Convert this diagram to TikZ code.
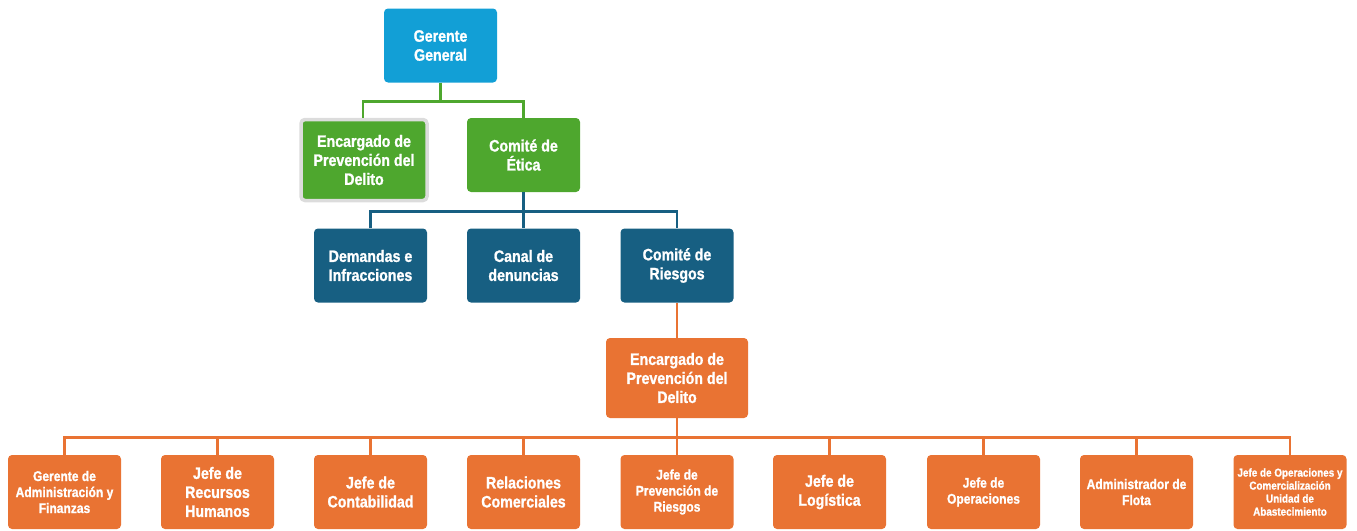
\documentclass[tikz,border=0pt]{standalone}
\usepackage{fontspec}
\setmainfont[FakeStretch=0.86,FakeBold=1.2]{Liberation Sans}
\definecolor{cyanb}{RGB}{18,159,214}
\definecolor{grn}{RGB}{78,167,46}
\definecolor{dblue}{RGB}{23,95,130}
\definecolor{orng}{RGB}{233,115,51}
\definecolor{ggray}{RGB}{220,220,220}
\begin{document}
\begin{tikzpicture}[x=1pt,y=-1pt,
  box/.style={rounded corners=4pt, text=white, align=center, inner sep=0pt,
    font=\fontsize{16.5}{19}\selectfont\bfseries, minimum height=74pt, minimum width=113pt},
  cbox/.style={box, fill=cyanb},
  gbox/.style={box, fill=grn},
  bbox/.style={box, fill=dblue},
  obox/.style={box, fill=orng},
  sm/.style={font=\fontsize{14}{16}\selectfont\bfseries},
  xs/.style={font=\fontsize{11.5}{13}\selectfont\bfseries},
  gline/.style={draw=grn, line width=2.6pt},
  bline/.style={draw=dblue, line width=2.6pt},
  oline/.style={draw=orng, line width=2.6pt}]
\useasboundingbox (0,0) rectangle (1357,530);
% top
\node[cbox] (gg) at (440.5,45.5) {Gerente\\General};
\node[gbox, minimum width=126pt, minimum height=81pt, draw=ggray, line width=3.5pt] (epd1) at (364,160) {Encargado de\\Prevención del\\Delito};
\node[gbox] (ce) at (523.5,155) {Comité de\\Ética};
\node[bbox] (dem) at (370.5,265.5) {Demandas e\\Infracciones};
\node[bbox] (can) at (523.5,265.5) {Canal de\\denuncias};
\node[bbox] (cr) at (677,265.5) {Comité de\\Riesgos};
\node[obox, minimum width=142pt, minimum height=80pt] (epd2) at (677,378) {Encargado de\\Prevención del\\Delito};
% bottom row
\foreach \n/\x/\t/\s in {
  b1/64.5/{Gerente de\\Administración y\\Finanzas}/sm,
  b2/217.5/{Jefe de\\Recursos\\Humanos}/box,
  b3/370.5/{Jefe de\\Contabilidad}/box,
  b4/523.5/{Relaciones\\Comerciales}/box,
  b5/677/{Jefe de\\Prevención de\\Riesgos}/sm,
  b6/829.5/{Jefe de\\Logística}/box,
  b7/983.5/{Jefe de\\Operaciones}/sm,
  b8/1136.5/{Administrador de\\Flota}/sm,
  b9/1290/{Jefe de Operaciones y\\Comercialización\\Unidad de\\Abastecimiento}/xs}
  {\node[obox, \s] (\n) at (\x,492) {\t};}
% connectors
\draw[gline] (gg.south) -- ++(0,19) coordinate (gj);
\draw[gline] (epd1.north -| 363,0) |- (gj) -| (ce.north);
\draw[bline] (ce.south) -- ++(0,19) coordinate (bj);
\draw[bline] (dem.north) |- (bj) -| (cr.north);
\draw[bline] (bj) -- (can.north);
\draw[oline] (cr.south) -- (epd2.north);
\draw[oline] (epd2.south) -- ++(0,19) coordinate (oj);
\draw[oline] (b1.north) |- (oj) -| (b9.north);
\foreach \n in {b2,b3,b4,b5,b6,b7,b8} \draw[oline] (\n.north) -- (\n.north |- oj);
\end{tikzpicture}
\end{document}
